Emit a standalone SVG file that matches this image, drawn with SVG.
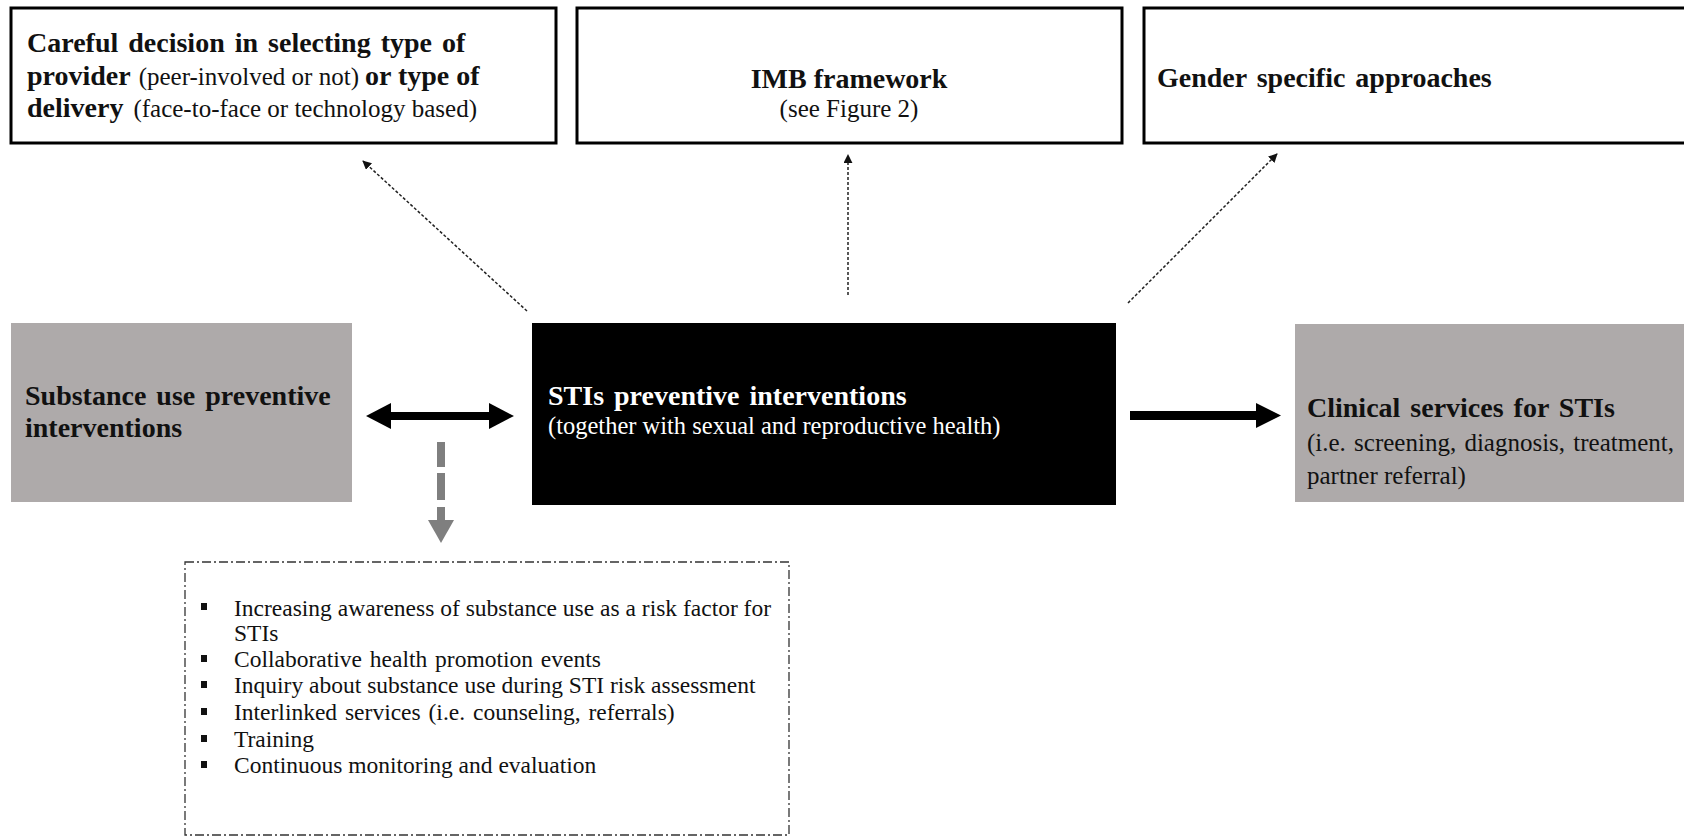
<svg xmlns="http://www.w3.org/2000/svg" width="1684" height="838" viewBox="0 0 1684 838">
<style>
.t{font-family:"Liberation Serif","Times New Roman",serif;fill:#111}
.b{font-family:"Liberation Serif","Times New Roman",serif;font-weight:bold;font-size:28px}
.r{font-family:"Liberation Serif","Times New Roman",serif;font-weight:normal;font-size:25px}
.l{font-size:23.5px}
.w{fill:#fff}
.frame{fill:#fff;stroke:#000;stroke-width:3}
.gray{fill:#aeaaaa}
.thin{stroke:#222;stroke-width:1.5;stroke-dasharray:3 2;fill:none}
</style>
<defs>
<marker id="ah" viewBox="0 0 10 10" refX="9" refY="5" markerWidth="9" markerHeight="9" markerUnits="userSpaceOnUse" orient="auto">
<path d="M0,0 L10,5 L0,10 Z" fill="#111"/>
</marker>
</defs>
<rect width="1684" height="838" fill="#fff"/>

<g id="node-provider">
<rect class="frame" x="11" y="8" width="545" height="135"/>
<text class="t b" x="27" y="52" word-spacing="3">Careful decision in selecting type of</text>
<text class="t" x="27" y="85"><tspan class="b">provider</tspan><tspan class="r" dx="8">(peer-involved or not)</tspan><tspan class="b" dx="6">or type of</tspan></text>
<text class="t" x="27" y="117"><tspan class="b">delivery</tspan><tspan class="r" dx="10">(face-to-face or technology based)</tspan></text>
</g>

<g id="node-imb">
<rect class="frame" x="577" y="8" width="545" height="135"/>
<text class="t b" x="849" y="88" text-anchor="middle">IMB framework</text>
<text class="t r" x="849" y="117" text-anchor="middle">(see Figure 2)</text>
</g>

<g id="node-gender">
<rect class="frame" x="1144" y="8" width="545" height="135"/>
<text class="t b" x="1157" y="87" word-spacing="3">Gender specific approaches</text>
</g>

<g id="node-substance">
<rect class="gray" x="11" y="323" width="341" height="179"/>
<text class="t b" x="25" y="405" word-spacing="3">Substance use preventive</text>
<text class="t b" x="25" y="437">interventions</text>
</g>

<g id="node-stis">
<rect fill="#000" x="532" y="323" width="584" height="182"/>
<text class="t b w" x="548" y="405" word-spacing="3">STIs preventive interventions</text>
<text class="t r w" x="548" y="434" style="font-size:24.5px">(together with sexual and reproductive health)</text>
</g>

<g id="node-clinical">
<rect class="gray" x="1295" y="324" width="395" height="178"/>
<text class="t b" x="1307" y="417" word-spacing="3">Clinical services for STIs</text>
<text class="t r" x="1307" y="451" word-spacing="2">(i.e. screening, diagnosis, treatment,</text>
<text class="t r" x="1307" y="484">partner referral)</text>
</g>

<g id="node-list">
<rect x="185" y="562" width="604" height="273" fill="none" stroke="#333" stroke-width="1.3" stroke-dasharray="9 3 2 3"/>
<g fill="#111">
<rect x="201" y="603" width="6" height="7"/>
<rect x="201" y="655" width="6" height="7"/>
<rect x="201" y="681" width="6" height="7"/>
<rect x="201" y="708" width="6" height="7"/>
<rect x="201" y="735" width="6" height="7"/>
<rect x="201" y="761" width="6" height="7"/>
</g>
<text class="t l" x="234" y="616">Increasing awareness of substance use as a risk factor for</text>
<text class="t l" x="234" y="641">STIs</text>
<text class="t l" x="234" y="667" word-spacing="2">Collaborative health promotion events</text>
<text class="t l" x="234" y="693">Inquiry about substance use during STI risk assessment</text>
<text class="t l" x="234" y="720" word-spacing="2">Interlinked services (i.e. counseling, referrals)</text>
<text class="t l" x="234" y="747">Training</text>
<text class="t l" x="234" y="773">Continuous monitoring and evaluation</text>
</g>

<g id="connectors">
<line class="thin" x1="527" y1="311" x2="363" y2="161" marker-end="url(#ah)"/>
<line class="thin" x1="848" y1="295" x2="848" y2="155" marker-end="url(#ah)"/>
<line class="thin" x1="1128" y1="303" x2="1277" y2="154" marker-end="url(#ah)"/>
<g fill="#000">
<rect x="388" y="412" width="104" height="8"/>
<path d="M366,416 L391,403 L391,429 Z"/>
<path d="M514,416 L489,403 L489,429 Z"/>
<rect x="1130" y="411" width="128" height="9"/>
<path d="M1281,415.5 L1256,403 L1256,428 Z"/>
</g>
<g fill="#7f7f7f">
<rect x="437" y="442" width="8" height="25"/>
<rect x="437" y="473" width="8" height="27"/>
<rect x="437" y="507" width="8" height="14"/>
<path d="M428,520 L454,520 L441,543 Z"/>
</g>
</g>
</svg>
